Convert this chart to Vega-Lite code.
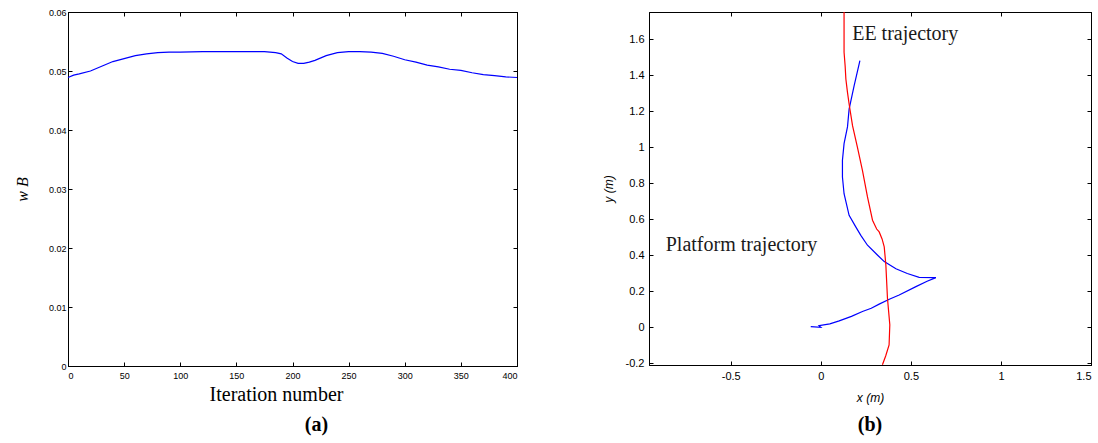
{
  "$schema": "https://vega.github.io/schema/vega-lite/v6.json",
  "background": "white",
  "padding": {"left": 13, "top": 7, "right": 0, "bottom": 0},
  "bounds": "flush",
  "spacing": 132,
  "config": {
    "view": {"stroke": "black", "strokeWidth": 1},
    "axis": {
      "grid": false,
      "domainColor": "black",
      "tickColor": "black",
      "labelColor": "black",
      "titleColor": "black",
      "labelFont": "Liberation Sans",
      "titleFont": "Liberation Sans",
      "tickSize": -4,
      "titleFontWeight": "normal"
    }
  },
  "datasets": {
    "wb": [
      {"iter": 0, "w": 0.0489}, {"iter": 5, "w": 0.0493}, {"iter": 10, "w": 0.0495},
      {"iter": 20, "w": 0.0500}, {"iter": 30, "w": 0.0508}, {"iter": 40, "w": 0.0516},
      {"iter": 50, "w": 0.0521}, {"iter": 60, "w": 0.0526}, {"iter": 70, "w": 0.0529},
      {"iter": 80, "w": 0.0531}, {"iter": 90, "w": 0.0532}, {"iter": 100, "w": 0.0532},
      {"iter": 120, "w": 0.0533}, {"iter": 140, "w": 0.0533}, {"iter": 160, "w": 0.0533},
      {"iter": 175, "w": 0.0533}, {"iter": 185, "w": 0.0531}, {"iter": 190, "w": 0.0529},
      {"iter": 195, "w": 0.0522}, {"iter": 200, "w": 0.0516}, {"iter": 205, "w": 0.0513},
      {"iter": 210, "w": 0.0513}, {"iter": 215, "w": 0.0515}, {"iter": 220, "w": 0.0518},
      {"iter": 230, "w": 0.0526}, {"iter": 240, "w": 0.0531}, {"iter": 250, "w": 0.0533},
      {"iter": 260, "w": 0.0533}, {"iter": 270, "w": 0.0532}, {"iter": 280, "w": 0.0530},
      {"iter": 290, "w": 0.0525}, {"iter": 300, "w": 0.0519}, {"iter": 310, "w": 0.0515},
      {"iter": 320, "w": 0.0510}, {"iter": 330, "w": 0.0507}, {"iter": 340, "w": 0.0503},
      {"iter": 350, "w": 0.0501}, {"iter": 360, "w": 0.0497}, {"iter": 370, "w": 0.0494},
      {"iter": 380, "w": 0.0492}, {"iter": 390, "w": 0.0490}, {"iter": 400, "w": 0.0489}
    ],
    "platform": [
      {"i": 0, "x": -0.056, "y": 0.003}, {"i": 1, "x": 0.0, "y": -0.001},
      {"i": 2, "x": -0.01, "y": 0.008}, {"i": 3, "x": 0.05, "y": 0.018},
      {"i": 4, "x": 0.102, "y": 0.035}, {"i": 5, "x": 0.17, "y": 0.06},
      {"i": 6, "x": 0.231, "y": 0.087}, {"i": 7, "x": 0.28, "y": 0.105},
      {"i": 8, "x": 0.324, "y": 0.128}, {"i": 9, "x": 0.38, "y": 0.155},
      {"i": 10, "x": 0.435, "y": 0.179}, {"i": 11, "x": 0.528, "y": 0.225},
      {"i": 12, "x": 0.59, "y": 0.255}, {"i": 13, "x": 0.639, "y": 0.275},
      {"i": 14, "x": 0.546, "y": 0.277}, {"i": 15, "x": 0.48, "y": 0.298},
      {"i": 16, "x": 0.417, "y": 0.324}, {"i": 17, "x": 0.352, "y": 0.364},
      {"i": 18, "x": 0.314, "y": 0.401}, {"i": 19, "x": 0.259, "y": 0.455},
      {"i": 20, "x": 0.222, "y": 0.51}, {"i": 21, "x": 0.194, "y": 0.557},
      {"i": 22, "x": 0.157, "y": 0.621}, {"i": 23, "x": 0.129, "y": 0.741},
      {"i": 24, "x": 0.12, "y": 0.834}, {"i": 25, "x": 0.12, "y": 0.927},
      {"i": 26, "x": 0.129, "y": 1.019}, {"i": 27, "x": 0.148, "y": 1.112},
      {"i": 28, "x": 0.157, "y": 1.211}, {"i": 29, "x": 0.185, "y": 1.341},
      {"i": 30, "x": 0.217, "y": 1.48}
    ],
    "ee": [
      {"i": 0, "x": 0.129, "y": 1.75}, {"i": 1, "x": 0.129, "y": 1.526},
      {"i": 2, "x": 0.135, "y": 1.45}, {"i": 3, "x": 0.139, "y": 1.378},
      {"i": 4, "x": 0.148, "y": 1.304}, {"i": 5, "x": 0.157, "y": 1.239},
      {"i": 6, "x": 0.176, "y": 1.119}, {"i": 7, "x": 0.203, "y": 1.0},
      {"i": 8, "x": 0.231, "y": 0.871}, {"i": 9, "x": 0.259, "y": 0.723},
      {"i": 10, "x": 0.287, "y": 0.594}, {"i": 11, "x": 0.31, "y": 0.545},
      {"i": 12, "x": 0.324, "y": 0.529}, {"i": 13, "x": 0.34, "y": 0.49},
      {"i": 14, "x": 0.352, "y": 0.446}, {"i": 15, "x": 0.361, "y": 0.346},
      {"i": 16, "x": 0.37, "y": 0.161}, {"i": 17, "x": 0.383, "y": 0.013},
      {"i": 18, "x": 0.379, "y": -0.098}, {"i": 19, "x": 0.36, "y": -0.16},
      {"i": 20, "x": 0.342, "y": -0.209}
    ],
    "labels": [
      {"x": 0.174, "y": 1.594, "text": "EE trajectory"},
      {"x": -0.861, "y": 0.425, "text": "Platform trajectory"}
    ]
  },
  "hconcat": [
    {
      "width": 449,
      "height": 354,
      "title": {"text": "(a)", "orient": "bottom", "font": "Liberation Serif", "fontSize": 20, "fontWeight": "bold", "color": "black", "offset": 11, "dx": 24},
      "data": {"name": "wb"},
      "layer": [
        {
          "mark": {"type": "line", "color": "#0000ff", "strokeWidth": 1.2},
          "encoding": {
            "x": {"field": "iter", "type": "quantitative", "scale": {"domain": [0, 400], "nice": false},
              "axis": {"values": [0, 50, 100, 150, 200, 250, 300, 350, 400], "labelFontSize": 9, "labelPadding": 9,
                "title": "Iteration number", "titleFont": "Liberation Serif", "titleFontSize": 20, "titlePadding": 4, "titleX": 208}},
            "y": {"field": "w", "type": "quantitative", "scale": {"domain": [0, 0.06], "nice": false},
              "axis": {"values": [0, 0.01, 0.02, 0.03, 0.04, 0.05, 0.06], "labelExpr": "'' + datum.value", "labelFontSize": 9, "labelPadding": 6,
                "title": "w  B", "titleFont": "Liberation Serif", "titleFontStyle": "italic", "titleFontSize": 16, "titlePadding": 18}}
          }
        },
        {
          "mark": {"type": "line", "opacity": 0},
          "encoding": {
            "x": {"field": "iter", "type": "quantitative", "axis": {"orient": "top", "values": [0, 50, 100, 150, 200, 250, 300, 350, 400], "labels": false, "title": null}},
            "y": {"field": "w", "type": "quantitative", "axis": {"orient": "right", "values": [0, 0.01, 0.02, 0.03, 0.04, 0.05, 0.06], "labels": false, "title": null}}
          }
        }
      ],
      "resolve": {"axis": {"x": "independent", "y": "independent"}}
    },
    {
      "width": 442,
      "height": 353,
      "title": {"text": "(b)", "orient": "bottom", "font": "Liberation Serif", "fontSize": 20, "fontWeight": "bold", "color": "black", "offset": 12},
      "layer": [
        {
          "data": {"name": "platform"},
          "mark": {"type": "line", "color": "#0000ff", "strokeWidth": 1.2, "clip": true},
          "encoding": {
            "x": {"field": "x", "type": "quantitative", "scale": {"domain": [-0.954, 1.5], "nice": false, "zero": false},
              "axis": {"values": [-0.5, 0, 0.5, 1, 1.5], "labelExpr": "'' + datum.value", "labelFontSize": 11, "labelPadding": 9,
                "title": "x (m)", "titleFontStyle": "italic", "titleFontSize": 12, "titlePadding": 11}},
            "y": {"field": "y", "type": "quantitative", "scale": {"domain": [-0.21, 1.75], "nice": false, "zero": false},
              "axis": {"values": [-0.2, 0, 0.2, 0.4, 0.6, 0.8, 1, 1.2, 1.4, 1.6], "labelExpr": "'' + datum.value", "labelFontSize": 11, "labelPadding": 9,
                "title": "y (m)", "titleFontStyle": "italic", "titleFontSize": 12, "titlePadding": 10}},
            "order": {"field": "i", "type": "quantitative"}
          }
        },
        {
          "data": {"name": "ee"},
          "mark": {"type": "line", "color": "#ff0000", "strokeWidth": 1.2, "clip": true},
          "encoding": {
            "x": {"field": "x", "type": "quantitative", "axis": {"orient": "top", "values": [-0.5, 0, 0.5, 1, 1.5], "labels": false, "title": null}},
            "y": {"field": "y", "type": "quantitative", "axis": {"orient": "right", "values": [-0.2, 0, 0.2, 0.4, 0.6, 0.8, 1, 1.2, 1.4, 1.6], "labels": false, "title": null}},
            "order": {"field": "i", "type": "quantitative"}
          }
        },
        {
          "data": {"name": "labels"},
          "mark": {"type": "text", "font": "Liberation Serif", "fontSize": 20, "align": "left", "baseline": "alphabetic", "color": "#1a1a1a"},
          "encoding": {
            "x": {"field": "x", "type": "quantitative", "axis": null},
            "y": {"field": "y", "type": "quantitative", "axis": null},
            "text": {"field": "text"}
          }
        }
      ],
      "resolve": {"axis": {"x": "independent", "y": "independent"}}
    }
  ]
}
